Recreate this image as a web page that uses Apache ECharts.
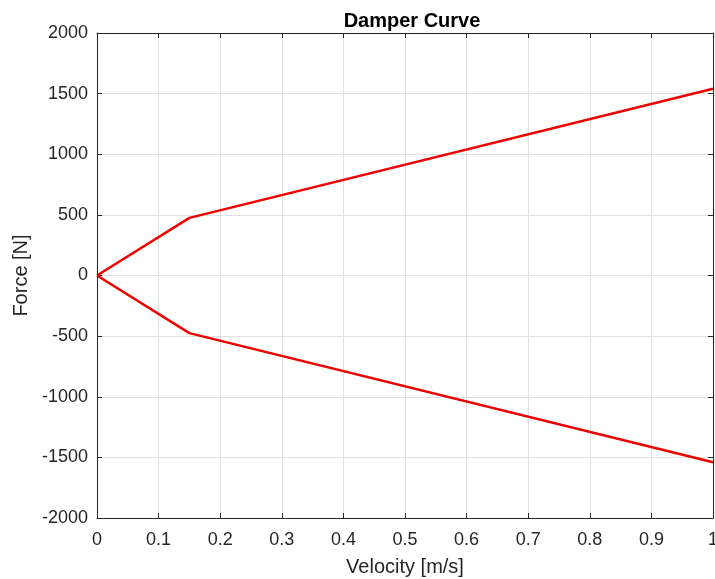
<!DOCTYPE html>
<html>
<head>
<meta charset="utf-8">
<script src="https://cdn.jsdelivr.net/npm/echarts@6/dist/echarts.min.js"></script>
<style>
  html, body { margin: 0; padding: 0; background: #fff; }
  #chart { width: 715px; height: 579px; }
</style>
</head>
<body>
<div id="chart"></div>
<script>
// data
const velocity = [0, 0.15, 1];
const forceUp = [0, 475, 1540];
const forceDown = [0, -475, -1540];

const font = 'Liberation Sans, Arial, sans-serif';
const axisColor = '#262626';

const chart = echarts.init(document.getElementById('chart'));

function pairs(xs, ys) {
  return xs.map((x, i) => [x, ys[i]]);
}

const baseX = {
  type: 'value', min: 0, max: 1, interval: 0.1,
  axisLine: { show: true, onZero: false, lineStyle: { color: axisColor, width: 1 } },
  axisTick: { show: true, inside: true, length: 5, lineStyle: { color: axisColor } },
  splitLine: { show: false }
};
const baseY = {
  type: 'value', min: -2000, max: 2000, interval: 500,
  axisLine: { show: true, onZero: false, lineStyle: { color: axisColor, width: 1 } },
  axisTick: { show: true, inside: true, length: 5, lineStyle: { color: axisColor } },
  splitLine: { show: false }
};

const option = {
  animation: false,
  backgroundColor: '#fff',
  title: {
    text: 'Damper Curve',
    left: 407, top: 6, textAlign: 'center',
    textStyle: { fontFamily: font, fontSize: 20, fontWeight: 'bold', color: '#000' }
  },
  grid: { left: 97, top: 33, right: 2, bottom: 61, containLabel: false, outerBoundsMode: 'none' },
  xAxis: [
    Object.assign({}, baseX, {
      position: 'bottom',
      name: 'Velocity [m/s]', nameLocation: 'middle', nameGap: 39,
      nameTextStyle: { fontFamily: font, fontSize: 20, color: axisColor },
      axisLabel: {
        fontFamily: font, fontSize: 18, color: axisColor, margin: 13,
        formatter: v => String(+v.toFixed(1))
      },
      splitLine: { show: true, lineStyle: { color: '#e0e0e0', width: 1 } }
    }),
    Object.assign({}, baseX, { position: 'top', axisLabel: { show: false } })
  ],
  yAxis: [
    Object.assign({}, baseY, {
      position: 'left',
      name: 'Force [N]', nameLocation: 'middle', nameGap: 65,
      nameTextStyle: { fontFamily: font, fontSize: 20, color: axisColor },
      axisLabel: {
        fontFamily: font, fontSize: 18, color: axisColor, margin: 9,
        formatter: v => String(v)
      },
      splitLine: { show: true, lineStyle: { color: '#e0e0e0', width: 1 } }
    }),
    Object.assign({}, baseY, { position: 'right', axisLabel: { show: false } })
  ],
  series: [
    {
      type: 'line', data: pairs(velocity, forceUp), showSymbol: false,
      lineStyle: { color: '#ee0000', width: 2.5 }, z: 5
    },
    {
      type: 'line', data: pairs(velocity, forceDown), showSymbol: false,
      lineStyle: { color: '#ee0000', width: 2.5 }, z: 5
    }
  ]
};

chart.setOption(option);
</script>
</body>
</html>
